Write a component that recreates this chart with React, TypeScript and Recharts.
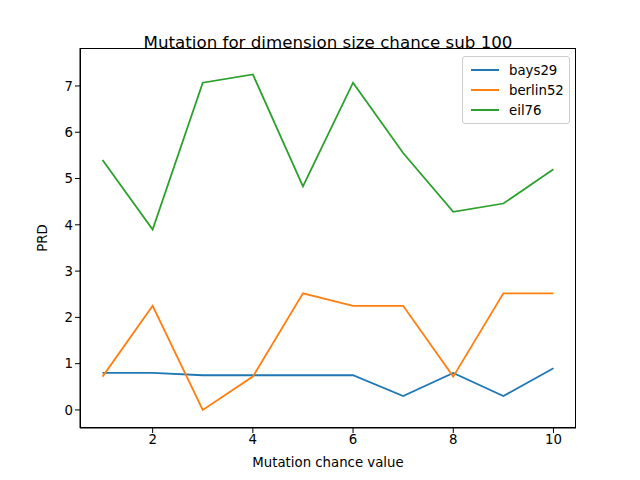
import React from "react";
import { LineChart, Line, XAxis, YAxis, Label } from "recharts";

const chances = [1, 2, 3, 4, 5, 6, 7, 8, 9, 10];
const bays29 = [0.8, 0.8, 0.75, 0.75, 0.75, 0.75, 0.3, 0.8, 0.3, 0.9];
const berlin52 = [0.72, 2.25, 0, 0.72, 2.52, 2.25, 2.25, 0.72, 2.52, 2.52];
const eil76 = [5.4, 3.9, 7.07, 7.25, 4.83, 7.07, 5.55, 4.28, 4.46, 5.2];
const xTicks = [2, 4, 6, 8, 10];
const yTicks = [0, 1, 2, 3, 4, 5, 6, 7];

const series = [
  { key: "bays29", color: "#1f77b4" },
  { key: "berlin52", color: "#ff7f0e" },
  { key: "eil76", color: "#2ca02c" },
];

const data = chances.map((c, i) => ({
  chance: c,
  bays29: bays29[i],
  berlin52: berlin52[i],
  eil76: eil76[i],
}));

const font = "DejaVu Sans, sans-serif";
const tick = { fill: "#000", fontSize: 13.3, fontFamily: font };

export default function App() {
  return (
    <div style={{ position: "relative", width: 640, height: 480, margin: -8, background: "#fff", fontFamily: font }}>
      <div style={{ position: "absolute", top: 32, left: 0, width: 656, textAlign: "center", fontSize: 16.7 }}>
        Mutation for dimension size chance sub 100
      </div>
      <LineChart width={640} height={480} data={data} margin={{ top: 48, right: 64, left: 0, bottom: 0 }}>
        <XAxis
          dataKey="chance"
          type="number"
          domain={[0.55, 10.45]}
          ticks={xTicks}
          tick={tick}
          stroke="#000"
          tickSize={5}
          height={52}
        >
          <Label value="Mutation chance value" position="insideBottom" offset={13} style={{ fill: "#000", fontSize: 13.3, fontFamily: font }} />
        </XAxis>
        <YAxis
          type="number"
          domain={[-0.39, 7.82]}
          ticks={yTicks}
          tick={tick}
          stroke="#000"
          tickSize={5}
          width={80}
        >
          <Label value="PRD" angle={-90} position="insideLeft" offset={42} style={{ fill: "#000", fontSize: 13.3, fontFamily: font, textAnchor: "middle" }} />
        </YAxis>
        {series.map((s) => (
          <Line key={s.key} dataKey={s.key} stroke={s.color} strokeWidth={1.8} dot={false} type="linear" isAnimationActive={false} />
        ))}
      </LineChart>
      <div style={{ position: "absolute", top: 56, left: 462, width: 106, border: "1px solid #ccc", borderRadius: 3, padding: "3px 0", background: "#fff", fontSize: 13.3 }}>
        {series.map((s) => (
          <div key={s.key} style={{ display: "flex", alignItems: "center", height: 20 }}>
            <div style={{ width: 28, height: 2, background: s.color, marginLeft: 8, marginRight: 10 }} />
            {s.key}
          </div>
        ))}
      </div>
      <div style={{ position: "absolute", left: 80, top: 48, width: 496, height: 380, border: "1px solid #000", boxSizing: "border-box", pointerEvents: "none" }} />
    </div>
  );
}
